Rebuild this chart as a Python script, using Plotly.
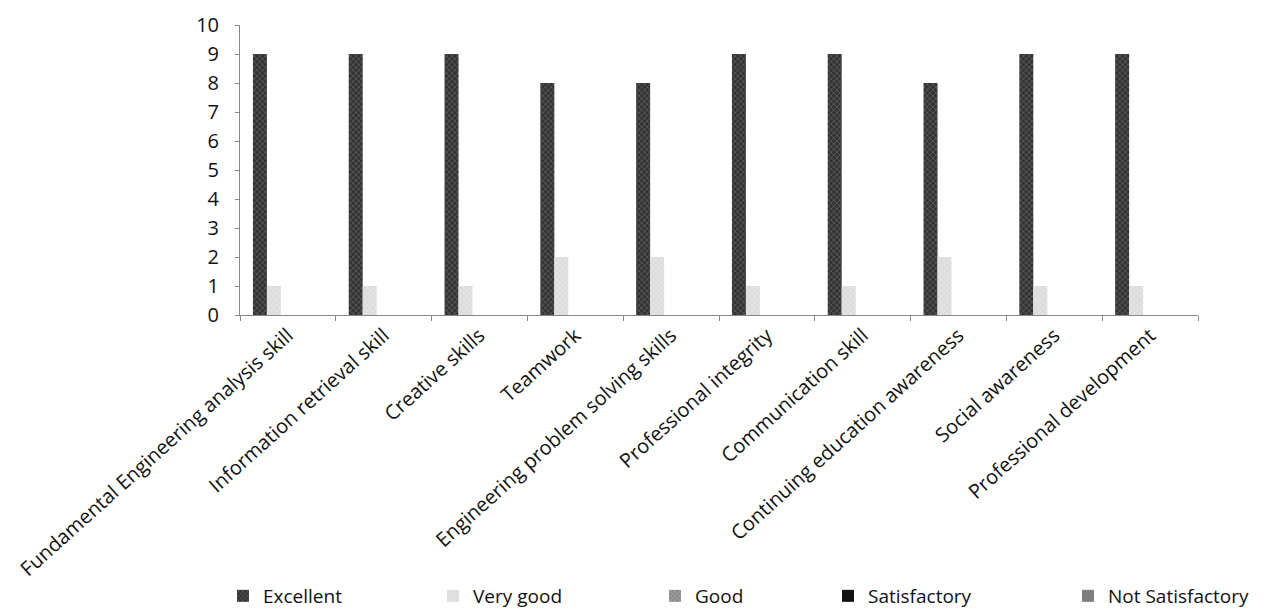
import plotly.graph_objects as go

categories = [
    "Fundamental Engineering analysis skill",
    "Information retrieval skill",
    "Creative skills",
    "Teamwork",
    "Engineering problem solving skills",
    "Professional integrity",
    "Communication skill",
    "Continuing education awareness",
    "Social awareness",
    "Professional development",
]
series_names = ["Excellent", "Very good", "Good", "Satisfactory", "Not Satisfactory"]
excellent = [9, 9, 9, 8, 8, 9, 9, 8, 9, 9]
very_good = [1, 1, 1, 2, 2, 1, 1, 2, 1, 1]
good = [0, 0, 0, 0, 0, 0, 0, 0, 0, 0]
satisfactory = [0, 0, 0, 0, 0, 0, 0, 0, 0, 0]
not_satisfactory = [0, 0, 0, 0, 0, 0, 0, 0, 0, 0]
values = [excellent, very_good, good, satisfactory, not_satisfactory]

colors = ["#333333", "#dcdcdc", "#8a8a8a", "#111111", "#777777"]
fg = ["#8c8c8c", "#f4f4f4", "#cfcfcf", "#111111", "#b0b0b0"]
shapes = ["x", "x", "x", "", "x"]
legend_ids = ["legend", "legend2", "legend3", "legend4", "legend5"]
legend_text_px = [265, 475, 697, 870, 1110]

FONT = "Open Sans"
L, R, T, B = 240, 87, 25, 295
W, H = 1285, 610
pw = W - L - R
ph = H - T - B

fig = go.Figure()
for name, vals, c, f, s, lid in zip(series_names, values, colors, fg, shapes, legend_ids):
    fig.add_trace(go.Bar(
        x=categories, y=vals, name=name, legend=lid,
        marker=dict(color=c, line=dict(width=0),
                    pattern=dict(shape=s, fgcolor=f, size=4, solidity=0.35)),
    ))

layout_legends = {}
for lid, tx in zip(legend_ids, legend_text_px):
    layout_legends[lid] = dict(
        x=(tx - 42 - L) / pw, xanchor="left",
        y=(H - B - 596) / ph, yanchor="middle",
        orientation="h", bgcolor="rgba(0,0,0,0)",
        font=dict(family=FONT, size=19, color="#111"),
        itemwidth=30,
    )

fig.update_layout(
    width=W, height=H,
    margin=dict(l=L, r=R, t=T, b=B, autoexpand=False),
    paper_bgcolor="white", plot_bgcolor="white",
    barmode="group", bargap=0.27, bargroupgap=0,
    showlegend=True,
    font=dict(family=FONT, color="#111"),
    xaxis=dict(
        tickangle=-42, tickson="boundaries", ticks="outside", ticklen=5,
        tickcolor="#888", showline=True, linecolor="#888", linewidth=1,
        tickfont=dict(family=FONT, size=20, color="#111"), showgrid=False,
    ),
    yaxis=dict(
        range=[0, 10], dtick=1, ticks="outside", ticklen=4, tickcolor="#888",
        showline=True, linecolor="#888", linewidth=1, showgrid=False,
        tickfont=dict(family=FONT, size=20, color="#111"), zeroline=False,
        ticklabelstandoff=12,
    ),
    **layout_legends,
)

fig.write_html("out.html", config={"displayModeBar": False},
               post_script="document.body.style.margin='0';")
